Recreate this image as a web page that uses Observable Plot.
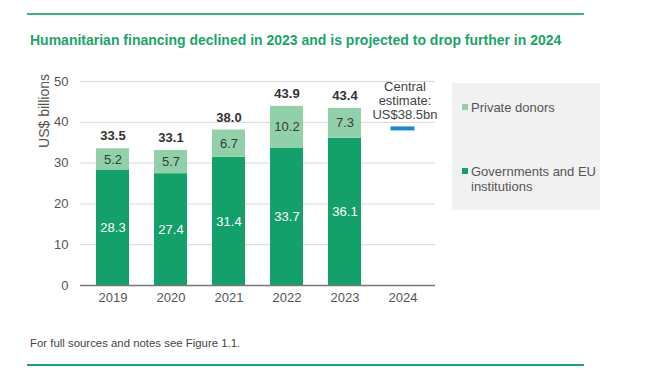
<!DOCTYPE html>
<html>
<head>
<meta charset="utf-8">
<script src="https://cdn.jsdelivr.net/npm/d3@7"></script>
<script src="https://cdn.jsdelivr.net/npm/@observablehq/plot@0.6"></script>
<style>
  html, body { margin: 0; padding: 0; background: #fff; }
  #wrap { position: relative; width: 650px; height: 385px; font-family: "Liberation Sans", Arial, sans-serif; overflow: hidden; }
  .rule { position: absolute; left: 27px; width: 557px; height: 2px; background: #3fb47f; }
  #title { position: absolute; left: 30px; top: 32px; font-size: 14px; font-weight: bold; color: #1ea36b; white-space: nowrap; }
  #chart { position: absolute; left: 0; top: 60px; }
  #ylab { position: absolute; left: 44px; top: 111px; transform: translate(-50%, -50%) rotate(-90deg); font-size: 14px; color: #555; white-space: nowrap; }
  #legend { position: absolute; left: 452px; top: 83px; width: 148px; height: 127px; background: #f1f1f1; }
  .li { position: absolute; left: 19px; font-size: 13px; color: #555; line-height: 15px; }
  .sw { position: absolute; left: -9px; top: 4px; width: 6px; height: 6px; }
  #foot { position: absolute; left: 30px; top: 337px; font-size: 11.4px; color: #444; white-space: nowrap; }
</style>
</head>
<body>
<div id="wrap">
  <div class="rule" style="top:13px"></div>
  <div id="title">Humanitarian financing declined in 2023 and is projected to drop further in 2024</div>
  <div id="chart"></div>
  <div id="ylab">US$ billions</div>
  <div id="legend"></div>
  <div id="foot">For full sources and notes see Figure 1.1.</div>
  <div class="rule" style="top:364px; background:#1ea36b"></div>
</div>
<script>
const years = ["2019", "2020", "2021", "2022", "2023", "2024"];
const govValues = [28.3, 27.4, 31.4, 33.7, 36.1];
const privateValues = [5.2, 5.7, 6.7, 10.2, 7.3];
const totals = [33.5, 33.1, 38.0, 43.9, 43.4];
const estimateYear = "2024";
const estimateValue = 38.5;
const estimateLabel = "Central\nestimate:\nUS$38.5bn";
const yTicks = [0, 10, 20, 30, 40, 50];
const seriesNames = ["Private donors", "Governments and EU institutions"];

const govColor = "#14a06a";
const privColor = "#92d0aa";

const govRows = govValues.map((v, i) => ({year: years[i], y1: 0, y2: v, v}));
const privRows = privateValues.map((v, i) => ({year: years[i], y1: govValues[i], y2: govValues[i] + v, v}));
const totalRows = totals.map((v, i) => ({year: years[i], v}));
const estRows = [{year: estimateYear, v: estimateValue, label: estimateLabel}];

const fmt = d3.format(".1f");

const plot = Plot.plot({
  width: 650,
  height: 250,
  marginLeft: 80,
  marginRight: 215,
  marginTop: 21,
  marginBottom: 25,
  style: {fontFamily: "Liberation Sans, Arial, sans-serif", fontSize: "13px", color: "#555", background: "transparent"},
  x: {domain: years, paddingInner: 0.43, paddingOuter: 0.225, label: null, tickSize: 0, tickPadding: 7},
  y: {domain: [0, 50], ticks: yTicks, label: null, tickSize: 0, tickPadding: 12, grid: false},
  marks: [
    Plot.gridY(yTicks.filter(t => t > 0), {stroke: "#d9d9d9", strokeOpacity: 1, strokeWidth: 1}),
    Plot.barY(govRows, {x: "year", y1: "y1", y2: "y2", fill: govColor}),
    Plot.barY(privRows, {x: "year", y1: "y1", y2: "y2", fill: privColor}),
    Plot.ruleY([0], {stroke: "#777", strokeWidth: 1.5}),
    Plot.text(govRows, {x: "year", y: d => (d.y1 + d.y2) / 2, text: d => fmt(d.v), fill: "white", fontSize: 13}),
    Plot.text(privRows, {x: "year", y: d => (d.y1 + d.y2) / 2, text: d => fmt(d.v), fill: "#3a3a3a", fontSize: 13}),
    Plot.text(totalRows, {x: "year", y: "v", text: d => fmt(d.v), dy: -13, fill: "#333", fontWeight: "bold", fontSize: 13}),
    Plot.tickY(estRows, {x: "year", y: "v", stroke: "#1a8ad0", strokeWidth: 4, insetLeft: 4.5, insetRight: 4.5}),
    Plot.text(estRows, {x: "year", y: "v", text: "label", lineAnchor: "bottom", dy: -9, dx: 2, lineHeight: 1.1, fill: "#444", fontSize: 13})
  ]
});
document.getElementById("chart").appendChild(plot);

// legend
const legend = document.getElementById("legend");
const legendItems = [
  {name: seriesNames[0], color: privColor, top: 17},
  {name: seriesNames[1], color: govColor, top: 81}
];
legendItems.forEach(it => {
  const el = document.createElement("div");
  el.className = "li";
  el.style.top = it.top + "px";
  el.style.width = "128px";
  el.innerHTML = `<span class="sw" style="background:${it.color}"></span>${it.name}`;
  legend.appendChild(el);
});
</script>
</body>
</html>
